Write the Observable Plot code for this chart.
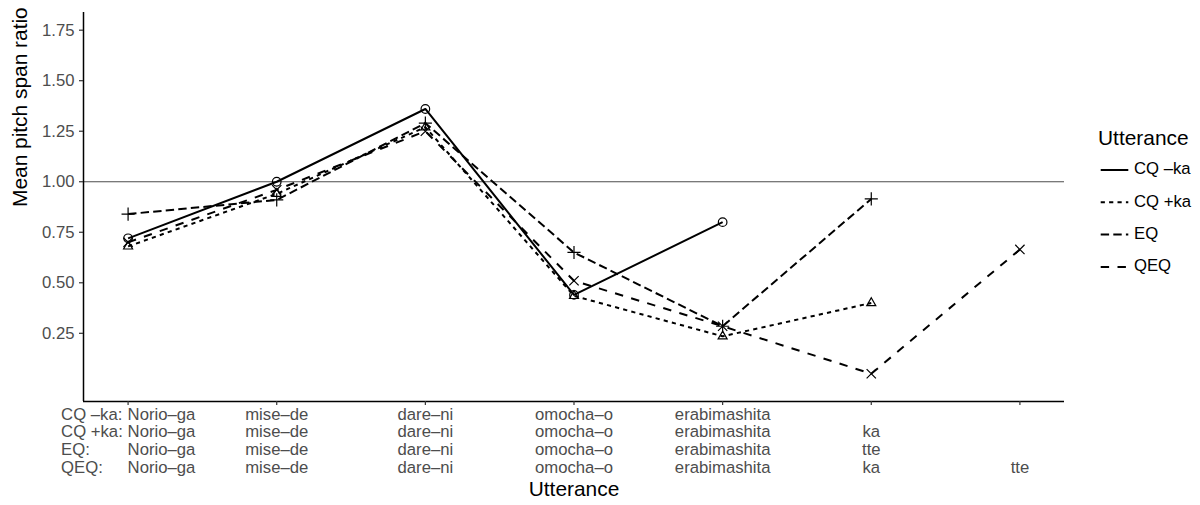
<!DOCTYPE html>
<html><head><meta charset="utf-8">
<script src="https://cdn.jsdelivr.net/npm/d3@7"></script>
<script src="https://cdn.jsdelivr.net/npm/@observablehq/plot@0.6"></script>
<style>
body{margin:0;background:#fff;font-family:"Liberation Sans",Arial,Helvetica,sans-serif;}
#wrap{display:flex;width:1200px;height:505px;overflow:hidden;}
</style></head><body><div id="wrap"></div>
<script>
// ---- data ----
const seriesNames = ["CQ –ka", "CQ +ka", "EQ", "QEQ"];
const prefixes = ["CQ –ka:", "CQ +ka:", "EQ:", "QEQ:"];
const wordsCQminus = ["Norio–ga", "mise–de", "dare–ni", "omocha–o", "erabimashita"];
const wordsCQplus  = ["Norio–ga", "mise–de", "dare–ni", "omocha–o", "erabimashita", "ka"];
const wordsEQ      = ["Norio–ga", "mise–de", "dare–ni", "omocha–o", "erabimashita", "tte"];
const wordsQEQ     = ["Norio–ga", "mise–de", "dare–ni", "omocha–o", "erabimashita", "ka", "tte"];
const valuesCQminus = [0.72, 1.00, 1.36, 0.44, 0.80];
const valuesCQplus  = [0.68, 0.94, 1.27, 0.435, 0.235, 0.40];
const valuesEQ      = [0.84, 0.91, 1.29, 0.65, 0.285, 0.915];
const valuesQEQ     = [0.70, 0.96, 1.25, 0.51, 0.285, 0.05, 0.665];
const yTicks = [0.25, 0.50, 0.75, 1.00, 1.25, 1.50, 1.75];
const yLimits = [0, 1.75];
const refValue = 1;
const xTitle = "Utterance";
const yTitle = "Mean pitch span ratio";
const legendTitle = "Utterance";

// ---- styles ----
const dashes = [undefined, "4.2,4.2", "8.4,4.2", "8.4,8.4"];
const symbols = ["circle", "triangle2", "plus", "times"];
const FONT = '"Liberation Sans", Arial, Helvetica, sans-serif';
const TICK_FS = 16.7, TITLE_FS = 20.9;

const wordLists = [wordsCQminus, wordsCQplus, wordsEQ, wordsQEQ];
const valueLists = [valuesCQminus, valuesCQplus, valuesEQ, valuesQEQ];
const rows = seriesNames.map((s, i) => valueLists[i].map((v, j) => ({series: s, pos: j + 1, value: v})));
const maxPos = d3.max(wordLists, w => w.length);
const xDomain = [1 - 0.05 * (maxPos - 1), maxPos + 0.05 * (maxPos - 1)];
const ySpan = yLimits[1] - yLimits[0];
const yDomain = [yLimits[0] - 0.05 * ySpan, yLimits[1] + 0.05 * ySpan];

const rowStep = 17.7;
const labelMarks = [];
wordLists.forEach((w, r) => {
  const items = w.map((t, j) => ({pos: j + 1, word: t}));
  const common = {x: "pos", text: "word", frameAnchor: "bottom", dy: rowStep * (r + 1) + 0.5, fontSize: TICK_FS, fill: "#4D4D4D"};
  labelMarks.push(Plot.text(items.filter(d => d.pos > 1), {...common, textAnchor: "middle"}));
  labelMarks.push(Plot.text(items.filter(d => d.pos === 1), {...common, textAnchor: "start", dx: -0.5}));
  labelMarks.push(Plot.text([{pos: 1, word: prefixes[r]}], {...common, textAnchor: "start", dx: -67}));
});

const plot = Plot.plot({
  width: 1090, height: 505,
  marginLeft: 83, marginRight: 26, marginTop: 12, marginBottom: 104,
  style: {fontFamily: FONT, background: "white", overflow: "visible"},
  x: {domain: xDomain, axis: null},
  y: {domain: yDomain, axis: null},
  symbol: {domain: seriesNames, range: symbols},
  marks: [
    Plot.ruleY([refValue], {stroke: "#4D4D4D", strokeWidth: 1.1}),
    ...rows.map((r, i) => Plot.line(r, {
      x: "pos", y: "value", stroke: "black", strokeWidth: 2,
      strokeDasharray: dashes[i], strokeLinecap: "butt", strokeLinejoin: "round"
    })),
    Plot.dot(rows.flat(), {x: "pos", y: "value", symbol: "series", r: 4.3, stroke: "black", strokeWidth: 1.2, fill: "none"}),
    Plot.ruleX([xDomain[0]], {stroke: "black", strokeWidth: 1.5}),
    Plot.ruleY([yDomain[0]], {stroke: "black", strokeWidth: 1.5}),
    Plot.axisY(yTicks, {tickSize: 4, tickPadding: 5, fontSize: TICK_FS, fill: "#4D4D4D", stroke: "#333", strokeWidth: 1.2, label: null, tickFormat: d3.format(".2f")}),
    Plot.axisX(d3.range(1, maxPos + 1), {tickSize: 4, stroke: "#333", strokeWidth: 1.2, tickFormat: () => "", label: null}),
    ...labelMarks,
    Plot.text([xTitle], {frameAnchor: "bottom", dy: 94, fontSize: TITLE_FS, fill: "black"}),
    Plot.text([yTitle], {frameAnchor: "left", rotate: -90, dx: -63, fontSize: TITLE_FS, fill: "black"})
  ]
});

const wrap = document.getElementById("wrap");
wrap.appendChild(plot);

// ---- legend ----
const leg = d3.select(wrap).append("svg").attr("width", 110).attr("height", 505)
  .style("font-family", FONT);
leg.append("text").attr("x", 8).attr("y", 139).attr("dominant-baseline", "middle")
  .attr("font-size", TITLE_FS).attr("fill", "black").text(legendTitle);
seriesNames.forEach((s, i) => {
  const cy = 170 + i * 32.3;
  leg.append("line").attr("x1", 10.7).attr("x2", 38.3).attr("y1", cy).attr("y2", cy)
    .attr("stroke", "black").attr("stroke-width", 2)
    .attr("stroke-dasharray", dashes[i] || null);
  leg.append("text").attr("x", 44).attr("y", cy).attr("dominant-baseline", "middle")
    .attr("font-size", TICK_FS).attr("fill", "black").text(s);
});
</script></body></html>
